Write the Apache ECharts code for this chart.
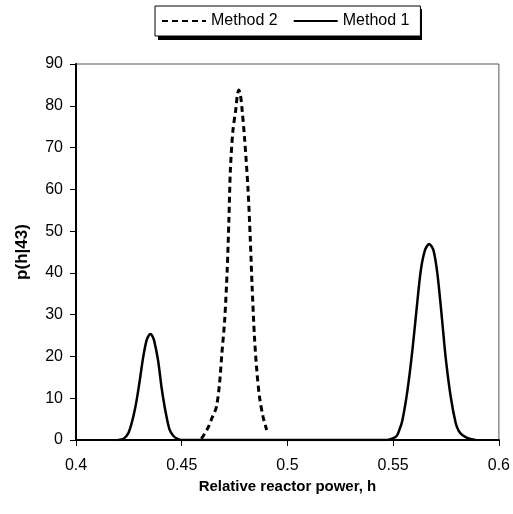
<!DOCTYPE html>
<html>
<head>
<meta charset="utf-8">
<script src="https://cdn.jsdelivr.net/npm/echarts@6/dist/echarts.min.js"></script>
<style>html,body{margin:0;padding:0;background:#fff;}#c{width:513px;height:514px;}</style>
</head>
<body>
<div id="c"></div>
<script>
var seriesNames = ['Method 2', 'Method 1'];
var xTicks = [0.4, 0.45, 0.5, 0.55, 0.6];
var yTicks = [0, 10, 20, 30, 40, 50, 60, 70, 80, 90];

var m1H = [0.420, 0.4225, 0.4247, 0.4262, 0.4278, 0.4290, 0.4302, 0.4318, 0.4334, 0.4345, 0.4352, 0.4360, 0.4369, 0.4388, 0.4404, 0.4415, 0.4425, 0.4443, 0.4460, 0.4475, 0.4498, 0.500, 0.5458, 0.5513, 0.5530, 0.5544, 0.5568, 0.5591, 0.5612, 0.5631, 0.5651, 0.5670, 0.5690, 0.5709, 0.5730, 0.5748, 0.5772, 0.5796, 0.5810, 0.5827, 0.5860, 0.5890];
var m1P = [0, 0.3, 1.6, 3.8, 7.2, 10.5, 14.4, 19.9, 23.9, 25.1, 25.4, 25.0, 23.9, 19.1, 12.8, 9.2, 6.4, 2.4, 1.0, 0.4, 0, 0, 0, 0.8, 2.5, 4.8, 12.0, 21.5, 31.9, 40.7, 45.5, 46.9, 45.5, 39.9, 29.5, 19.9, 10.4, 4.0, 2.2, 1.2, 0.3, 0];

var m2H = [0.4593, 0.4624, 0.4645, 0.4664, 0.4679, 0.4690, 0.4703, 0.4715, 0.4723, 0.4730, 0.4742, 0.4755, 0.4763, 0.4770, 0.4778, 0.4786, 0.4797, 0.4813, 0.4824, 0.4833, 0.4844, 0.4855, 0.4868, 0.4885, 0.4902];
var m2P = [0.3, 2.9, 5.5, 7.9, 13.6, 20.8, 28.6, 40.6, 52.5, 64.5, 74.0, 78.8, 82.5, 83.8, 82.5, 78.8, 72.4, 60.5, 48.5, 36.6, 24.7, 16.7, 10.3, 5.5, 2.4];

function pairs(h, p) { return h.map(function (x, i) { return [x, p[i]]; }); }

var chart = echarts.init(document.getElementById('c'), null, { renderer: 'canvas' });
var font = 'Liberation Sans, Arial, Helvetica, sans-serif';
chart.setOption({
  animation: false,
  backgroundColor: '#fff',
  textStyle: { fontFamily: font },
  graphic: [{
    type: 'rect', z: 0, silent: true,
    shape: { x: 158, y: 9, width: 264, height: 31 },
    style: { fill: '#000' }
  }],
  legend: {
    data: seriesNames,
    left: 155, top: 6,
    padding: [7, 11, 7, 6],
    itemGap: 15,
    itemWidth: 44, itemHeight: 14,
    z: 10,
    backgroundColor: '#fff',
    borderColor: '#000', borderWidth: 1,
    itemStyle: { opacity: 0 },
    textStyle: { fontFamily: font, fontSize: 16, color: '#000' }
  },
  grid: { left: 76, right: 13, top: 64, bottom: 74, show: true, borderColor: '#555', borderWidth: 1, backgroundColor: 'transparent' },
  xAxis: {
    type: 'value', min: xTicks[0], max: xTicks[xTicks.length - 1], interval: 0.05,
    name: 'Relative reactor power, h', nameLocation: 'middle', nameGap: 36,
    nameTextStyle: { fontFamily: font, fontSize: 15, fontWeight: 'bold', color: '#000' },
    axisLine: { lineStyle: { color: '#000', width: 2 } },
    axisTick: { show: true, length: 6, lineStyle: { color: '#000', width: 1 } },
    axisLabel: { fontFamily: font, fontSize: 16, color: '#000', margin: 18 },
    splitLine: { show: false }
  },
  yAxis: {
    type: 'value', min: yTicks[0], max: yTicks[yTicks.length - 1], interval: 10,
    name: 'p(h|43)', nameLocation: 'middle', nameGap: 45, nameRotate: 90,
    nameTextStyle: { fontFamily: font, fontSize: 17, fontWeight: 'bold', color: '#000' },
    axisLine: { lineStyle: { color: '#000', width: 2 } },
    axisTick: { show: true, length: 6, lineStyle: { color: '#000', width: 1 } },
    axisLabel: { fontFamily: font, fontSize: 16, color: '#000', margin: 13 },
    splitLine: { show: false }
  },
  series: [
    {
      name: seriesNames[0], type: 'line', symbol: 'none', smooth: 0.3,
      data: pairs(m2H, m2P),
      lineStyle: { color: '#000', width: 3, type: [6, 4] },
      itemStyle: { color: '#000' }
    },
    {
      name: seriesNames[1], type: 'line', symbol: 'none', smooth: 0.3,
      data: pairs(m1H, m1P),
      lineStyle: { color: '#000', width: 2.5, type: 'solid' },
      itemStyle: { color: '#000' }
    }
  ]
});
</script>
</body>
</html>
